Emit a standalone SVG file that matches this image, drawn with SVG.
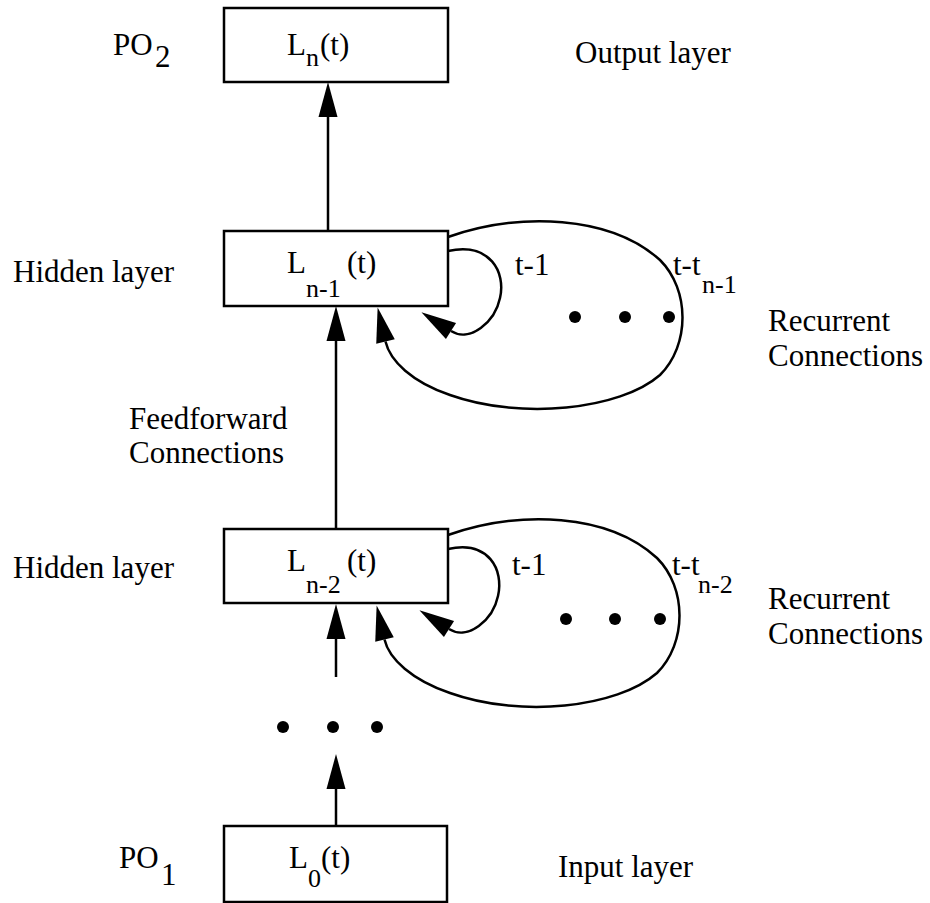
<svg xmlns="http://www.w3.org/2000/svg" width="930" height="903" viewBox="0 0 930 903">
<style>
  text { font-family: "Liberation Serif", "Times New Roman", serif; font-size: 31px; fill: #000; }
  text.sub { font-size: 26px; }
  .box { fill: #fff; stroke: #000; stroke-width: 2.5; }
  .edge { fill: none; stroke: #000; stroke-width: 2.5; }
  .dot { fill: #000; }
</style>
<defs>
  <marker id="ah" markerUnits="userSpaceOnUse" markerWidth="40" markerHeight="24" refX="0" refY="9.5" orient="auto" overflow="visible">
    <path d="M0,0 L35,9.5 L0,19 Z" fill="#000"/>
  </marker>
</defs>
<rect width="930" height="903" fill="#fff"/>

<g id="connectors">
  <path class="edge" d="M328,231 L328,117" marker-end="url(#ah)"/>
  <path class="edge" d="M336,529 L336,341" marker-end="url(#ah)"/>
  <path class="edge" d="M336,677 L336,639" marker-end="url(#ah)"/>
  <path class="edge" d="M336,826 L336,789" marker-end="url(#ah)"/>
  <!-- recurrent loops of L_{n-1} -->
  <path class="edge" d="M448,251 C490,242 506,272 500,298 C495,322 470,343 451,331" marker-end="url(#ah)"/>
  <path class="edge" d="M448,237 C520,212 610,215 660,260 C690,290 690,345 660,375 C620,410 520,420 450,395 C412,382 390,361 385.5,341.5" marker-end="url(#ah)"/>
  <!-- recurrent loops of L_{n-2} -->
  <path class="edge" d="M448,549 C489,540 504,570 498,596 C493,620 468,641 449,629" marker-end="url(#ah)"/>
  <path class="edge" d="M448,535 C520,510 608,513 657,558 C687,588 687,643 657,673 C617,708 520,718 450,693 C412,680 389,659 384.5,639.5" marker-end="url(#ah)"/>
</g>

<g id="node-Ln">
  <rect class="box" x="224" y="8" width="224" height="74"/>
  <text x="287" y="55">L</text><text class="sub" x="306" y="66">n</text><text x="320" y="55">(t)</text>
</g>
<g id="node-Ln1">
  <rect class="box" x="224" y="231" width="224" height="75"/>
  <text x="287" y="273">L</text><text class="sub" x="306" y="297">n-1</text><text x="347" y="273">(t)</text>
</g>
<g id="node-Ln2">
  <rect class="box" x="224" y="529" width="224" height="74"/>
  <text x="287" y="571">L</text><text class="sub" x="306" y="593">n-2</text><text x="347" y="571">(t)</text>
</g>
<g id="node-L0">
  <rect class="box" x="224" y="826" width="223" height="76"/>
  <text x="289" y="868">L</text><text class="sub" x="308" y="887">0</text><text x="321" y="868">(t)</text>
</g>

<g id="labels">
  <text x="113" y="55">PO</text><text x="155" y="67">2</text>
  <text x="119" y="868">PO</text><text x="161" y="885">1</text>
  <text x="575" y="63">Output layer</text>
  <text x="558" y="877">Input layer</text>
  <text x="13" y="282">Hidden layer</text>
  <text x="13" y="578">Hidden layer</text>
  <text x="129" y="429">Feedforward</text>
  <text x="129" y="463">Connections</text>
  <text x="768" y="331">Recurrent</text>
  <text x="768" y="366">Connections</text>
  <text x="768" y="609">Recurrent</text>
  <text x="768" y="644">Connections</text>
  <text x="515" y="275">t-1</text>
  <text x="673" y="275">t-t</text><text class="sub" x="702" y="293">n-1</text>
  <text x="512" y="575">t-1</text>
  <text x="672" y="575">t-t</text><text class="sub" x="698" y="593">n-2</text>
</g>

<g id="dots">
  <circle class="dot" cx="575" cy="317" r="6"/>
  <circle class="dot" cx="625" cy="317" r="6"/>
  <circle class="dot" cx="669" cy="317" r="6"/>
  <circle class="dot" cx="566" cy="619" r="6"/>
  <circle class="dot" cx="615" cy="619" r="6"/>
  <circle class="dot" cx="660" cy="619" r="6"/>
  <circle class="dot" cx="283" cy="727" r="6"/>
  <circle class="dot" cx="333" cy="727" r="6"/>
  <circle class="dot" cx="377" cy="727" r="6"/>
</g>
</svg>
